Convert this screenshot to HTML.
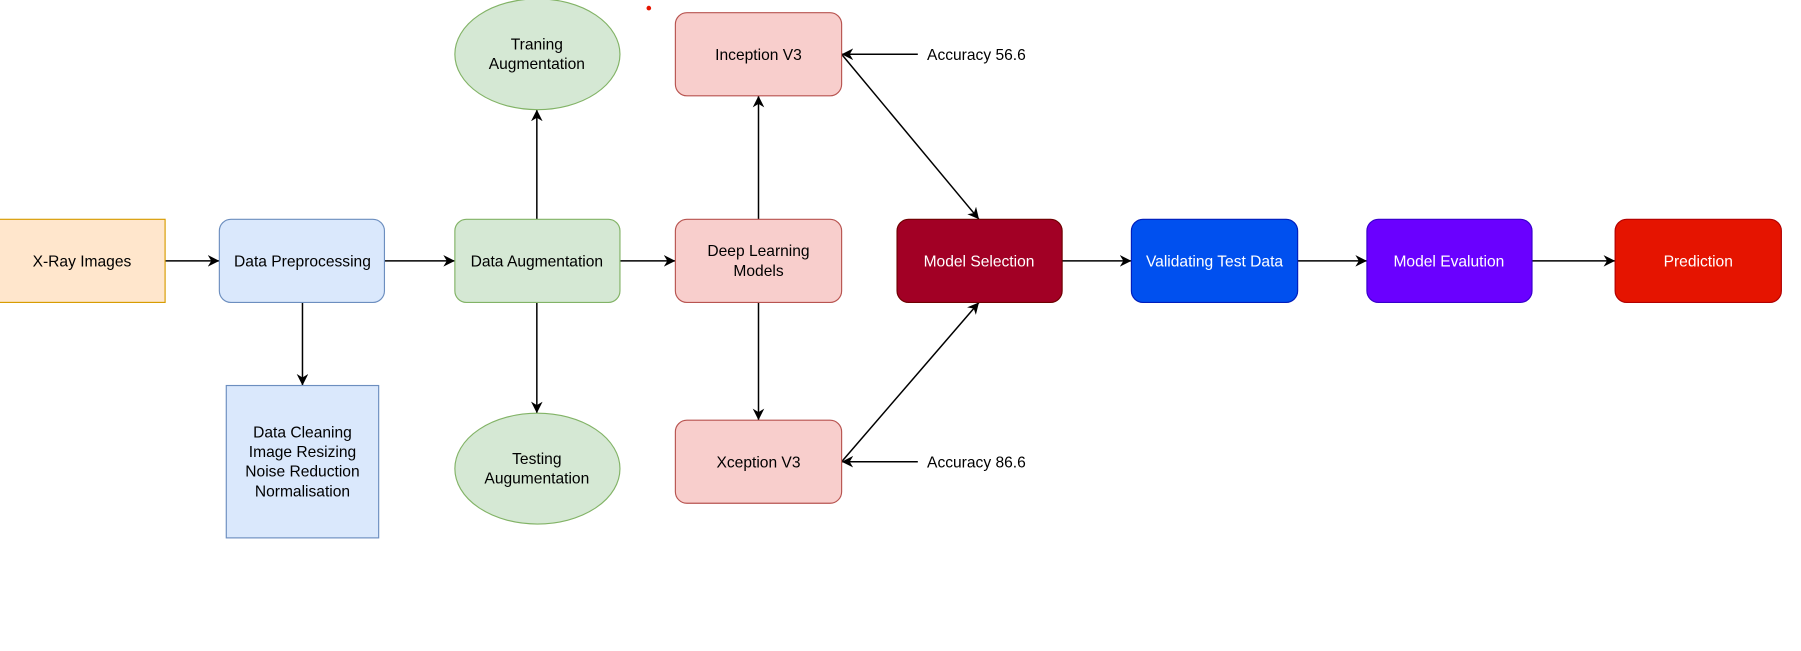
<!DOCTYPE html>
<html><head><meta charset="utf-8"><style>html,body{margin:0;padding:0;background:#fff;overflow:hidden}svg{display:block}</style></head>
<body>
<svg width="1801" height="651" viewBox="0 0 1560 564" preserveAspectRatio="none" xmlns="http://www.w3.org/2000/svg" font-family="Liberation Sans, Arial, sans-serif" font-size="13.5">
<defs><marker id="a" viewBox="0 0 10 10" refX="10" refY="5" markerWidth="10" markerHeight="10" markerUnits="userSpaceOnUse" orient="auto"><path d="M0,0 L10,5 L0,10 L3,5 Z" fill="#000"/></marker></defs>
<rect width="1560" height="564" fill="#fff"/>
<g stroke="#000" stroke-width="1.3" fill="none" marker-end="url(#a)">
<line x1="143" y1="226" x2="190" y2="226"/>
<line x1="333" y1="226" x2="394" y2="226"/>
<line x1="537" y1="226" x2="585" y2="226"/>
<line x1="262" y1="262" x2="262" y2="334"/>
<line x1="465" y1="190" x2="465" y2="95"/>
<line x1="465" y1="262" x2="465" y2="358"/>
<line x1="657" y1="190" x2="657" y2="83"/>
<line x1="657" y1="262" x2="657" y2="364"/>
<line x1="729" y1="47" x2="848" y2="190"/>
<line x1="729" y1="400" x2="848" y2="262"/>
<line x1="795" y1="47" x2="729" y2="47"/>
<line x1="795" y1="400" x2="729" y2="400"/>
<line x1="920" y1="226" x2="980" y2="226"/>
<line x1="1124" y1="226" x2="1184" y2="226"/>
<line x1="1327" y1="226" x2="1399" y2="226"/>
</g>
<rect x="-1" y="190" width="144" height="72" fill="#ffe6cc" stroke="#d79b00"/>
<rect x="190" y="190" width="143" height="72" rx="10" fill="#dae8fc" stroke="#6c8ebf"/>
<rect x="196" y="334" width="132" height="132" fill="#dae8fc" stroke="#6c8ebf"/>
<rect x="394" y="190" width="143" height="72" rx="10" fill="#d5e8d4" stroke="#82b366"/>
<ellipse cx="465.5" cy="47" rx="71.5" ry="48" fill="#d5e8d4" stroke="#82b366"/>
<ellipse cx="465.5" cy="406" rx="71.5" ry="48" fill="#d5e8d4" stroke="#82b366"/>
<rect x="585" y="190" width="144" height="72" rx="10" fill="#f8cecc" stroke="#b85450"/>
<rect x="585" y="11" width="144" height="72" rx="10" fill="#f8cecc" stroke="#b85450"/>
<rect x="585" y="364" width="144" height="72" rx="10" fill="#f8cecc" stroke="#b85450"/>
<rect x="777" y="190" width="143" height="72" rx="10" fill="#a20025" stroke="#6f0000"/>
<rect x="980" y="190" width="144" height="72" rx="10" fill="#0050ef" stroke="#001dbc"/>
<rect x="1184" y="190" width="143" height="72" rx="10" fill="#6a00ff" stroke="#3700cc"/>
<rect x="1399" y="190" width="144" height="72" rx="10" fill="#e51400" stroke="#b20000"/>
<circle cx="562" cy="7" r="2" fill="#e51400"/>
<g text-anchor="middle" fill="#000">
<text x="71" y="231">X-Ray Images</text>
<text x="262" y="231">Data Preprocessing</text>
<text x="262" y="379">Data Cleaning</text>
<text x="262" y="396">Image Resizing</text>
<text x="262" y="413">Noise Reduction</text>
<text x="262" y="430">Normalisation</text>
<text x="465" y="231">Data Augmentation</text>
<text x="465" y="43">Traning</text>
<text x="465" y="60">Augmentation</text>
<text x="465" y="402">Testing</text>
<text x="465" y="419">Augumentation</text>
<text x="657" y="222">Deep Learning</text>
<text x="657" y="239">Models</text>
<text x="657" y="52">Inception V3</text>
<text x="657" y="405">Xception V3</text>
</g>
<g text-anchor="middle" fill="#fff">
<text x="848" y="231">Model Selection</text>
<text x="1052" y="231">Validating Test Data</text>
<text x="1255" y="231">Model Evalution</text>
<text x="1471" y="231">Prediction</text>
</g>
<text x="803" y="52">Accuracy 56.6</text>
<text x="803" y="405">Accuracy 86.6</text>
</svg>
</body></html>
